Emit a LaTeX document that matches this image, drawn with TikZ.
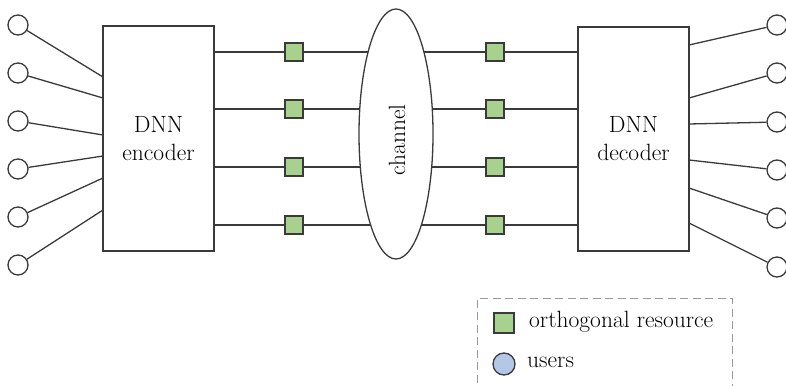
\documentclass[tikz,border=0pt]{standalone}
\usetikzlibrary{shapes.geometric,backgrounds}
\definecolor{lineg}{HTML}{3A3A3A}
\definecolor{sqgreen}{HTML}{A9D18E}
\definecolor{userblue}{HTML}{B4C7E7}
\begin{document}
\begin{tikzpicture}[x=1pt,y=-1pt,
  every node/.style={font=\rmfamily\fontsize{23.5}{28}\selectfont},
  conn/.style={draw=lineg,line width=1.3pt},
  usr/.style={circle,draw=lineg,line width=1.3pt,fill=white,minimum size=20pt,inner sep=0pt},
  res/.style={rectangle,draw=lineg,line width=1.1pt,fill=sqgreen,minimum size=18pt,inner sep=0pt},
  dnnbox/.style={rectangle,draw=lineg,line width=1.3pt,fill=white,minimum width=111pt,inner sep=0pt,align=center}]
\useasboundingbox (0,0) rectangle (786,385);
% boxes
\node[dnnbox,minimum height=225pt] (enc) at (158.5,138.5) {DNN\\encoder};
\node[dnnbox,minimum height=224pt] (dec) at (633.5,139) {DNN\\decoder};
% channel
\node[ellipse,draw=lineg,line width=1.3pt,fill=white,minimum width=74pt,minimum height=250pt,inner sep=0pt] (ch) at (396,134) {};
\node[rotate=90] (chtxt) at (397,140) {channel};
% users left
\foreach \i/\y/\e in {1/25/77,2/73/98,3/121/135,4/169/156,5/217/178,6/265/210}{
  \node[usr] (l\i) at (18,\y) {};
  \coordinate (le\i) at (103,\e);
  \draw[conn] (l\i) -- (le\i);
}
% users right
\foreach \i/\y/\e in {1/25/45,2/73/98,3/122/124,4/170/160,5/218/188,6/267/223}{
  \node[usr] (r\i) at (777,\y) {};
  \coordinate (re\i) at (689,\e);
  \draw[conn] (r\i) -- (re\i);
}
% resources
\foreach \i/\y in {1/52,2/109,3/167,4/225}{
  \node[res] (sl\i) at (294,\y) {};
  \node[res] (sr\i) at (495,\y) {};
  \begin{pgfonlayer}{background}
    \draw[conn] (enc.east |- sl\i) -- (ch.center |- sl\i);
    \draw[conn] (ch.center |- sr\i) -- (dec.west |- sr\i);
  \end{pgfonlayer}
}
% legend
\draw[draw=gray!80,line width=1pt,dash pattern=on 8pt off 4.5pt] (477,420) -- (477,298) -- (732,298) -- (732,420);
\node[res,minimum size=20pt] (lgsq) at (504,323) {};
\node[anchor=west,inner sep=0pt] (lgsqt) at (529,322) {orthogonal resource};
\node[circle,draw=lineg,line width=1.3pt,fill=userblue,minimum size=22pt,inner sep=0pt] (lgc) at (504,364) {};
\node[anchor=west,inner sep=0pt] (lgct) at (527,362) {users};
\end{tikzpicture}
\end{document}
